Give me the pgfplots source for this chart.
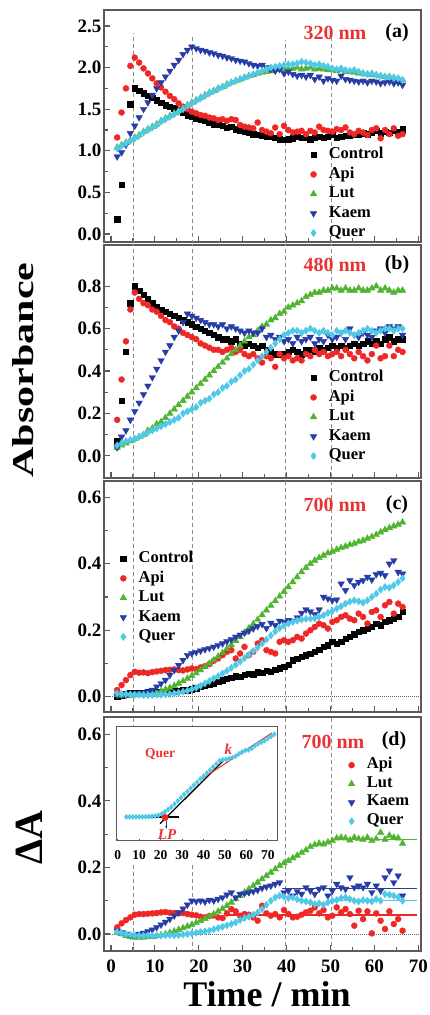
\documentclass[border=0pt]{standalone}
\usepackage{fontspec}
\setmainfont{Liberation Serif}
\usepackage{pgfplots}
\pgfplotsset{compat=1.18}
\usepackage{pgfplotstable}
\usetikzlibrary{arrows.meta}

\definecolor{cApi}{RGB}{238,40,38}
\definecolor{cLut}{RGB}{80,180,50}
\definecolor{cKaem}{RGB}{40,60,165}
\definecolor{cQuer}{RGB}{80,200,230}
\definecolor{frame}{RGB}{90,90,90}
\definecolor{txtred}{RGB}{235,50,50}

% panel (a): 320 nm
\pgfplotstableread{
x c a l k q
1.4 0.18 1.16 1.04 0.93 1.03
2.4 0.59 1.46 1.07 0.98 1.06
3.4 nan 1.75 1.10 1.07 1.09
4.4 1.56 2.02 1.13 1.21 1.12
5.4 1.75 2.12 1.16 1.30 1.15
6.4 1.72 2.06 1.19 1.40 1.18
7.4 1.69 1.99 1.23 1.50 1.22
8.4 1.66 1.93 1.26 1.58 1.25
9.4 1.64 1.87 1.29 1.67 1.28
10.4 1.61 1.81 1.32 1.75 1.31
11.4 1.58 1.76 1.36 1.82 1.35
12.4 1.55 1.71 1.39 1.89 1.38
13.4 1.53 1.66 1.42 1.96 1.41
14.4 1.51 1.62 1.45 2.03 1.44
15.4 1.49 1.57 1.48 2.09 1.47
16.4 1.46 1.53 1.51 2.16 1.50
17.4 1.43 1.50 1.55 2.21 1.54
18.4 1.41 1.47 1.58 2.25 1.57
19.4 1.39 1.45 1.61 2.23 1.60
20.4 1.38 1.43 1.64 2.21 1.63
21.4 1.36 1.42 1.67 2.20 1.66
22.4 1.34 1.40 1.70 2.18 1.69
23.4 1.32 1.39 1.72 2.17 1.72
24.4 1.31 1.37 1.75 2.15 1.74
25.4 1.30 1.38 1.77 2.14 1.77
26.4 1.28 1.36 1.80 2.12 1.79
27.4 1.29 1.38 1.82 2.11 1.82
28.4 1.26 1.37 1.84 2.09 1.84
29.4 1.24 1.31 1.86 2.08 1.86
30.4 1.23 1.29 1.88 2.07 1.88
31.4 1.22 1.28 1.90 2.05 1.90
32.4 1.20 1.27 1.91 2.03 1.92
33.4 1.19 1.34 1.93 2.02 1.94
34.4 1.18 1.25 1.94 2.03 1.96
35.4 1.17 1.23 1.95 2.00 1.98
36.4 1.17 1.21 1.96 1.98 2.00
37.4 1.16 1.28 1.97 1.96 2.01
38.4 1.14 1.20 1.98 1.98 2.02
39.4 1.13 1.30 1.98 1.93 2.03
40.4 1.14 1.25 1.99 1.95 2.04
41.4 1.15 1.22 1.99 1.92 2.04
42.4 1.17 1.23 2.00 1.90 2.05
43.4 1.16 1.24 1.98 1.91 2.07
44.4 1.16 1.20 1.99 1.89 2.06
45.4 1.14 1.24 2.00 1.91 2.05
46.4 1.16 1.22 1.98 1.86 2.03
47.4 1.17 1.29 1.99 1.89 2.04
48.4 1.16 1.25 1.98 1.84 2.02
49.4 1.17 1.24 1.97 1.87 2.01
50.4 1.19 1.23 1.97 1.85 1.99
51.4 1.16 1.26 1.96 1.84 1.98
52.4 1.17 1.25 1.97 1.90 1.99
53.4 1.18 1.28 1.95 1.86 1.97
54.4 1.18 1.22 1.95 1.85 1.96
55.4 1.19 1.20 1.94 1.84 1.97
56.4 1.20 1.24 1.93 1.83 1.95
57.4 1.21 1.22 1.93 1.84 1.93
58.4 1.20 1.19 1.92 1.82 1.92
59.4 1.22 1.25 1.91 1.84 1.93
60.4 1.24 1.27 1.91 1.83 1.91
61.4 1.21 1.15 1.90 1.81 1.90
62.4 1.23 1.25 1.89 1.82 1.89
63.4 1.22 1.20 1.89 1.83 1.89
64.4 1.24 1.27 1.88 1.81 1.88
65.4 1.23 1.18 1.87 1.82 1.87
66.4 1.26 1.20 1.85 1.79 1.85
}\tabA

% panel (b): 480 nm
\pgfplotstableread{
x c a l k q
1.4 0.07 0.17 0.04 0.04 0.05
2.4 0.26 0.36 0.05 0.09 0.06
3.4 0.49 0.54 0.06 0.12 0.07
4.4 0.72 0.69 0.07 0.17 0.075
5.4 0.80 0.77 0.08 0.21 0.08
6.4 0.78 0.74 0.09 0.25 0.09
7.4 0.76 0.72 0.10 0.29 0.10
8.4 0.74 0.71 0.12 0.33 0.11
9.4 0.72 0.69 0.13 0.37 0.12
10.4 0.70 0.68 0.15 0.41 0.13
11.4 0.69 0.66 0.16 0.45 0.14
12.4 0.68 0.64 0.18 0.49 0.15
13.4 0.67 0.63 0.20 0.52 0.16
14.4 0.66 0.61 0.22 0.56 0.17
15.4 0.65 0.60 0.24 0.59 0.18
16.4 0.64 0.58 0.26 0.63 0.20
17.4 0.63 0.57 0.28 0.67 0.21
18.4 0.62 0.56 0.30 0.66 0.22
19.4 0.61 0.55 0.32 0.65 0.23
20.4 0.60 0.53 0.34 0.64 0.25
21.4 0.59 0.52 0.36 0.63 0.26
22.4 0.58 0.51 0.38 0.62 0.27
23.4 0.57 0.50 0.40 0.62 0.29
24.4 0.56 0.50 0.42 0.61 0.30
25.4 0.55 0.49 0.44 0.62 0.32
26.4 0.55 0.50 0.46 0.60 0.33
27.4 0.54 0.51 0.48 0.61 0.35
28.4 0.55 0.49 0.50 0.60 0.36
29.4 0.53 0.50 0.52 0.59 0.38
30.4 0.52 0.48 0.54 0.58 0.40
31.4 0.53 0.47 0.56 0.59 0.41
32.4 0.52 0.48 0.57 0.58 0.43
33.4 0.51 0.46 0.59 0.58 0.45
34.4 0.52 0.44 0.61 0.60 0.47
35.4 0.50 0.47 0.62 0.56 0.49
36.4 0.49 0.46 0.64 0.57 0.51
37.4 0.48 0.42 0.65 0.55 0.53
38.4 0.48 0.48 0.67 0.56 0.55
39.4 0.48 0.46 0.68 0.54 0.57
40.4 0.49 0.47 0.70 0.55 0.58
41.4 0.50 0.45 0.71 0.53 0.59
42.4 0.49 0.46 0.72 0.56 0.59
43.4 0.48 0.45 0.73 0.54 0.58
44.4 0.50 0.48 0.75 0.55 0.59
45.4 0.50 0.47 0.76 0.56 0.60
46.4 0.49 0.50 0.77 0.53 0.59
47.4 0.51 0.48 0.77 0.55 0.58
48.4 0.50 0.49 0.78 0.54 0.59
49.4 0.51 0.47 0.78 0.57 0.58
50.4 0.52 0.48 0.79 0.55 0.57
51.4 0.51 0.49 0.79 0.56 0.59
52.4 0.52 0.47 0.78 0.58 0.58
53.4 0.51 0.50 0.79 0.55 0.59
54.4 0.52 0.48 0.78 0.60 0.58
55.4 0.53 0.46 0.78 0.57 0.57
56.4 0.52 0.49 0.79 0.56 0.58
57.4 0.53 0.47 0.78 0.58 0.59
58.4 0.54 0.45 0.78 0.57 0.60
59.4 0.53 0.48 0.79 0.56 0.59
60.4 0.54 0.52 0.80 0.59 0.58
61.4 0.53 0.46 0.78 0.60 0.59
62.4 0.55 0.47 0.79 0.58 0.60
63.4 0.56 0.52 0.78 0.61 0.60
64.4 0.54 0.47 0.77 0.60 0.59
65.4 0.55 0.50 0.78 0.61 0.60
66.4 0.55 0.49 0.78 0.57 0.60
}\tabB

% panel (c): 700 nm
\pgfplotstableread{
x c a l k q
1.4 0.000 0.020 0.005 0.005 0.010
2.4 0.005 0.035 0.004 0.006 0.008
3.4 0.008 0.050 0.005 0.005 0.008
4.4 0.010 0.065 0.004 0.007 0.007
5.4 0.010 0.075 0.005 0.008 0.006
6.4 0.012 0.072 0.005 0.010 0.006
7.4 0.012 0.073 0.006 0.012 0.005
8.4 0.013 0.071 0.008 0.015 0.005
9.4 0.012 0.074 0.010 0.020 0.005
10.4 0.014 0.076 0.013 0.030 0.006
11.4 0.015 0.078 0.017 0.040 0.006
12.4 0.015 0.080 0.022 0.050 0.007
13.4 0.016 0.081 0.027 0.065 0.008
14.4 0.017 0.082 0.033 0.080 0.010
15.4 0.018 0.080 0.040 0.095 0.012
16.4 0.019 0.079 0.047 0.110 0.015
17.4 0.020 0.082 0.055 0.125 0.018
18.4 0.022 0.085 0.063 0.130 0.022
19.4 0.025 0.083 0.071 0.134 0.027
20.4 0.030 0.088 0.080 0.138 0.033
21.4 0.033 0.092 0.090 0.142 0.040
22.4 0.036 0.098 0.100 0.146 0.047
23.4 0.040 0.108 0.110 0.150 0.055
24.4 0.045 0.115 0.121 0.155 0.062
25.4 0.050 0.125 0.132 0.160 0.070
26.4 0.055 0.135 0.144 0.166 0.078
27.4 0.058 0.140 0.156 0.172 0.087
28.4 0.062 0.115 0.168 0.180 0.096
29.4 0.060 0.130 0.180 0.186 0.106
30.4 0.066 0.150 0.193 0.192 0.116
31.4 0.070 0.125 0.206 0.198 0.126
32.4 0.068 0.135 0.219 0.205 0.137
33.4 0.074 0.160 0.232 0.212 0.148
34.4 0.072 0.170 0.246 0.218 0.160
35.4 0.078 0.140 0.260 0.206 0.172
36.4 0.075 0.135 0.274 0.222 0.184
37.4 0.082 0.130 0.288 0.215 0.196
38.4 0.086 0.165 0.302 0.228 0.206
39.4 0.090 0.170 0.316 0.225 0.214
40.4 0.097 0.165 0.330 0.230 0.220
41.4 0.110 0.170 0.345 0.228 0.225
42.4 0.115 0.180 0.360 0.238 0.229
43.4 0.120 0.175 0.375 0.252 0.232
44.4 0.125 0.190 0.388 0.262 0.234
45.4 0.130 0.200 0.400 0.256 0.235
46.4 0.135 0.210 0.410 0.248 0.236
47.4 0.142 0.220 0.418 0.262 0.240
48.4 0.150 0.215 0.425 0.300 0.245
49.4 0.155 0.205 0.432 0.295 0.252
50.4 0.165 0.225 0.437 0.290 0.258
51.4 0.160 0.230 0.443 0.292 0.265
52.4 0.165 0.240 0.448 0.340 0.272
53.4 0.175 0.245 0.452 0.320 0.280
54.4 0.180 0.235 0.457 0.350 0.286
55.4 0.188 0.230 0.461 0.335 0.290
56.4 0.195 0.250 0.466 0.345 0.287
57.4 0.200 0.240 0.470 0.350 0.283
58.4 0.205 0.220 0.476 0.360 0.290
59.4 0.210 0.255 0.481 0.352 0.300
60.4 0.220 0.260 0.487 0.368 0.310
61.4 0.215 0.240 0.495 0.372 0.322
62.4 0.225 0.275 0.502 0.365 0.330
63.4 0.230 0.285 0.508 0.400 0.328
64.4 0.235 0.250 0.513 0.410 0.335
65.4 0.240 0.280 0.518 0.375 0.345
66.4 0.255 0.270 0.525 0.370 0.356
}\tabC

% panel (d): delta A at 700 nm
\pgfplotstableread{
x a l k q
1.4 0.020 0.005 0.010 0.006
2.4 0.032 0.000 0.005 0.004
3.4 0.042 -0.005 0.000 0.000
4.4 0.050 -0.008 -0.004 -0.002
5.4 0.058 -0.010 -0.005 -0.004
6.4 0.060 -0.010 0.000 -0.005
7.4 0.060 -0.010 0.003 -0.005
8.4 0.061 -0.009 0.008 -0.004
9.4 0.062 -0.008 0.013 -0.005
10.4 0.063 -0.006 0.020 -0.004
11.4 0.065 -0.003 0.028 -0.005
12.4 0.066 0.000 0.036 -0.004
13.4 0.064 0.004 0.045 -0.003
14.4 0.063 0.008 0.055 -0.004
15.4 0.062 0.013 0.065 -0.003
16.4 0.063 0.018 0.076 -0.002
17.4 0.060 0.023 0.088 0.000
18.4 0.058 0.028 0.100 0.002
19.4 0.056 0.034 0.098 0.004
20.4 0.052 0.040 0.100 0.006
21.4 0.050 0.046 0.097 0.008
22.4 0.054 0.053 0.102 0.010
23.4 0.056 0.060 0.100 0.014
24.4 0.050 0.068 0.105 0.018
25.4 0.048 0.076 0.110 0.022
26.4 0.062 0.085 0.118 0.026
27.4 0.075 0.095 0.125 0.030
28.4 0.068 0.105 0.110 0.035
29.4 0.055 0.115 0.120 0.042
30.4 0.060 0.125 0.122 0.048
31.4 0.058 0.135 0.125 0.052
32.4 0.050 0.145 0.128 0.058
33.4 0.040 0.155 0.132 0.065
34.4 0.085 0.165 0.138 0.075
35.4 0.062 0.175 0.142 0.088
36.4 0.055 0.185 0.145 0.100
37.4 0.060 0.195 0.150 0.110
38.4 0.050 0.205 0.155 0.115
39.4 0.072 0.213 0.125 0.112
40.4 0.060 0.220 0.130 0.108
41.4 0.050 0.228 0.115 0.110
42.4 0.052 0.236 0.128 0.104
43.4 0.058 0.244 0.120 0.100
44.4 0.065 0.252 0.140 0.098
45.4 0.070 0.262 0.130 0.095
46.4 0.080 0.268 0.120 0.090
47.4 0.062 0.272 0.135 0.092
48.4 0.072 0.270 0.140 0.088
49.4 0.050 0.276 0.115 0.095
50.4 0.055 0.280 0.130 0.100
51.4 0.080 0.288 0.150 0.102
52.4 0.065 0.290 0.140 0.108
53.4 0.075 0.288 0.135 0.110
54.4 0.060 0.282 0.170 0.105
55.4 0.025 0.290 0.140 0.100
56.4 0.070 0.286 0.145 0.098
57.4 0.045 0.284 0.140 0.102
58.4 0.068 0.290 0.150 0.100
59.4 0.002 0.280 0.125 0.098
60.4 0.062 0.286 0.145 0.105
61.4 0.040 0.305 0.130 0.100
62.4 0.015 0.284 0.170 0.120
63.4 0.068 0.296 0.190 0.118
64.4 0.030 0.290 0.155 0.115
65.4 0.045 0.288 0.175 0.110
66.4 0.010 0.272 0.115 0.100
}\tabD

% inset: Quer (arbitrary units)
\pgfplotstableread{
x v
4 0.210
5.5 0.210
7 0.210
8.5 0.210
10 0.211
11.5 0.211
13 0.212
14.5 0.213
16 0.215
17.5 0.218
19 0.224
20.5 0.236
22 0.255
23.5 0.275
25 0.296
26.5 0.322
28 0.350
29.5 0.378
31 0.406
32.5 0.432
34 0.460
35.5 0.487
37 0.513
38.5 0.540
40 0.565
41.5 0.592
43 0.618
44.5 0.645
46 0.672
47.5 0.700
49 0.708
50.5 0.712
52 0.718
53.5 0.728
55 0.740
56.5 0.760
58 0.775
59.5 0.790
61 0.795
62.5 0.808
64 0.830
65.5 0.848
67 0.860
68.5 0.875
70 0.895
71.5 0.912
73 0.930
}\tabInset

\pgfplotsset{
  panel/.style={
    scale only axis, width=317pt, xmin=-1.6, xmax=70.6,
    anchor=south west,
    tick pos=left, tick align=inside,
    axis line style={draw=frame, line width=1.4pt},
    tick style={draw=frame, line width=1.1pt},
    major tick length=6pt, minor tick length=3.5pt,
    xtick={0,10,...,70}, minor x tick num=1, minor y tick num=1,
    /pgf/number format/assume math mode=true,
    ticklabel style={font=\bfseries\fontsize{19}{19}\selectfont},
    yticklabel style={inner sep=2.5pt, /pgf/number format/.cd, fixed, fixed zerofill, precision=1, assume math mode=true},
    xticklabel style={inner sep=2pt, yshift=-7pt},
    legend cell align=left,
    legend style={draw=none, fill=none, inner sep=0pt, anchor=north west,
      column sep=10pt, font=\bfseries\fontsize{16.5}{16.5}\selectfont,
      nodes={inner sep=2pt, text height=11.5pt, text depth=4pt}},
  },
  sC/.style={only marks, mark=square*, mark size=2.7pt, black},
  sA/.style={only marks, mark=*, mark size=3pt, cApi},
  sL/.style={only marks, mark=triangle*, mark size=3.8pt, cLut},
  sK/.style={only marks, mark=triangle*, mark size=3.8pt, cKaem, mark options={rotate=180}},
  sQ/.style={only marks, mark=diamond*, mark size=3.6pt, cQuer},
  vline/.style={forget plot, black!45, line width=1.2pt, dash pattern=on 4pt off 3pt},
  zline/.style={forget plot, black!60, line width=1pt, densely dotted},
  fitline/.style={forget plot, line width=1.5pt},
}

\begin{document}
\begin{tikzpicture}
\tikzset{lab/.style={font=\bfseries\fontsize{20}{20}\selectfont}}

% (a)
\begin{axis}[panel, at={(104pt,773pt)}, height=232pt,
  ymin=-0.096, ymax=2.692, ytick={0,0.5,1,1.5,2,2.5}, xticklabels={},
  legend style={at={(0.650,0.418)}}]
\addplot[vline] coordinates {(5.2,-0.2) (5.2,2.42)};
\addplot[vline] coordinates {(18.5,-0.2) (18.5,2.40)};
\addplot[vline] coordinates {(39.8,-0.2) (39.8,2.33)};
\addplot[vline] coordinates {(50.2,-0.2) (50.2,2.45)};
\addplot[sC] table[x=x,y=c]{\tabA}; \addlegendentry{Control}
\addplot[sA] table[x=x,y=a]{\tabA}; \addlegendentry{Api}
\addplot[sL] table[x=x,y=l]{\tabA}; \addlegendentry{Lut}
\addplot[sK] table[x=x,y=k]{\tabA}; \addlegendentry{Kaem}
\addplot[sQ] table[x=x,y=q]{\tabA}; \addlegendentry{Quer}
\end{axis}
\node[lab, txtred] at (335pt,982pt) {320 nm};
\node[lab] at (397pt,982pt) {(a)};

% (b)
\begin{axis}[panel, at={(104pt,537pt)}, height=233pt,
  ymin=-0.104, ymax=0.994, ytick={0,0.2,0.4,0.6,0.8}, xticklabels={},
  legend style={at={(0.650,0.472)}}]
\addplot[vline] coordinates {(5.2,-0.2) (5.2,1.1)};
\addplot[vline] coordinates {(18.5,-0.2) (18.5,1.1)};
\addplot[vline] coordinates {(39.8,-0.2) (39.8,1.1)};
\addplot[vline] coordinates {(50.2,-0.2) (50.2,1.1)};
\addplot[sC] table[x=x,y=c]{\tabB}; \addlegendentry{Control}
\addplot[sA] table[x=x,y=a]{\tabB}; \addlegendentry{Api}
\addplot[sL] table[x=x,y=l]{\tabB}; \addlegendentry{Lut}
\addplot[sK] table[x=x,y=k]{\tabB}; \addlegendentry{Kaem}
\addplot[sQ] table[x=x,y=q]{\tabB}; \addlegendentry{Quer}
\end{axis}
\node[lab, txtred] at (335pt,750pt) {480 nm};
\node[lab] at (397pt,750pt) {(b)};

% (c)
\begin{axis}[panel, at={(104pt,303pt)}, height=231pt,
  ymin=-0.046, ymax=0.649, ytick={0,0.2,0.4,0.6}, xticklabels={},
  legend style={at={(0.050,0.706)}}]
\addplot[vline] coordinates {(5.2,-0.1) (5.2,0.7)};
\addplot[vline] coordinates {(18.5,-0.1) (18.5,0.7)};
\addplot[vline] coordinates {(39.8,-0.1) (39.8,0.7)};
\addplot[vline] coordinates {(50.2,-0.1) (50.2,0.7)};
\addplot[zline] coordinates {(-2,0) (71,0)};
\addplot[sC] table[x=x,y=c]{\tabC}; \addlegendentry{Control}
\addplot[sA] table[x=x,y=a]{\tabC}; \addlegendentry{Api}
\addplot[sL] table[x=x,y=l]{\tabC}; \addlegendentry{Lut}
\addplot[sK] table[x=x,y=k]{\tabC}; \addlegendentry{Kaem}
\addplot[sQ] table[x=x,y=q]{\tabC}; \addlegendentry{Quer}
\end{axis}
\node[lab, txtred] at (335pt,510pt) {700 nm};
\node[lab] at (397pt,510pt) {(c)};

% (d)
\begin{axis}[panel, at={(104pt,64pt)}, height=234pt,
  ymin=-0.051, ymax=0.652, ytick={0,0.2,0.4,0.6},
  legend style={at={(0.770,0.835)}, nodes={text height=10.7pt}}]
\addplot[vline] coordinates {(5.2,-0.1) (5.2,0.7)};
\addplot[vline] coordinates {(18.5,-0.1) (18.5,0.7)};
\addplot[vline] coordinates {(39.8,-0.1) (39.8,0.7)};
\addplot[vline] coordinates {(50.2,-0.1) (50.2,0.7)};
\addplot[zline] coordinates {(-2,0) (71,0)};
\addplot[sA] table[x=x,y=a]{\tabD}; \addlegendentry{Api}
\addplot[sL] table[x=x,y=l]{\tabD}; \addlegendentry{Lut}
\addplot[sK] table[x=x,y=k]{\tabD}; \addlegendentry{Kaem}
\addplot[sQ] table[x=x,y=q]{\tabD}; \addlegendentry{Quer}
\addplot[fitline, cApi] coordinates {(26.5,0.057) (69.7,0.057)};
\addplot[fitline, cLut] coordinates {(50,0.284) (69.7,0.284)};
\addplot[fitline, cKaem] coordinates {(39,0.137) (69.7,0.137)};
\addplot[fitline, cQuer] coordinates {(50.5,0.100) (69.7,0.100)};
\end{axis}
\node[lab, txtred] at (333pt,273pt) {700 nm};
\node[lab] at (394pt,274pt) {(d)};

% inset
\fill[white] (116.5pt,150pt) rectangle (278pt,175pt);
\begin{axis}[at={(116.7pt,174pt)}, anchor=south west, scale only axis,
  width=161pt, height=114.7pt, xmin=-0.5, xmax=74.6, ymin=0, ymax=1,
  ytick=\empty, xtick={0,10,...,70}, tick pos=left, tick align=inside,
  major tick length=2pt, tick style={draw=frame, line width=0.8pt},
  axis line style={draw=frame, line width=1pt},
  axis background/.style={fill=white},
  /pgf/number format/assume math mode=true,
  ticklabel style={font=\bfseries\fontsize{13.5}{13.5}\selectfont},
  xticklabel style={inner sep=1pt, yshift=-8pt}]
\addplot[only marks, mark=diamond*, mark size=2.6pt, cQuer] table[x=x,y=v]{\tabInset};
\addplot[black, line width=1.3pt] coordinates {(3.7,0.209) (28.6,0.209)};
\addplot[black, line width=1.3pt] coordinates {(19.7,0.151) (49.3,0.701)};
\addplot[cApi, line width=1pt] coordinates {(39.2,0.542) (71.9,0.942)};
\addplot[only marks, mark=*, mark size=3.3pt, cApi] coordinates {(22.1,0.205)};
\draw[-{Stealth[length=3pt]}, cKaem, line width=0.8pt] (axis cs:22.6,0.175) -- (axis cs:22.6,0.105);
\node[font=\bfseries\fontsize{13.5}{13.5}\selectfont, txtred] at (axis cs:19.7,0.754) {Quer};
\node[font=\bfseries\itshape\fontsize{15}{15}\selectfont, txtred] at (axis cs:51.6,0.80) {k};
\node[font=\bfseries\itshape\fontsize{15}{15}\selectfont, txtred] at (axis cs:23,0.06) {LP};
\end{axis}

% axis titles
\node[rotate=90, yscale=0.72, font=\bfseries\fontsize{42}{42}\selectfont] at (23pt,645pt) {Absorbance};
\node[rotate=90, font=\bfseries\fontsize{40}{40}\selectfont] at (29pt,177pt) {ΔA};
\node[anchor=base, inner sep=0pt, font=\bfseries\fontsize{36}{36}\selectfont] at (267pt,9pt) {Time / min};

\pgfresetboundingbox
\path[use as bounding box] (0,0) rectangle (430pt,1015pt);
\end{tikzpicture}
\end{document}
